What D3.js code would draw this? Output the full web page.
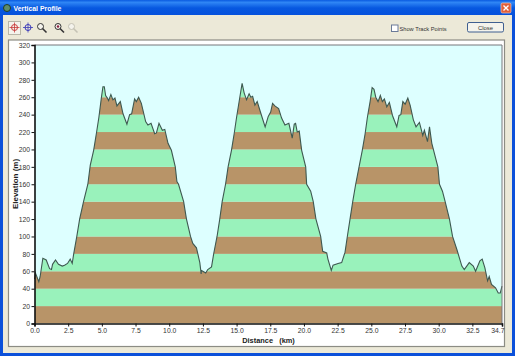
<!DOCTYPE html>
<html>
<head>
<meta charset="utf-8">
<script src="https://cdnjs.cloudflare.com/ajax/libs/d3/7.8.5/d3.min.js"></script>
<style>
html, body { margin: 0; padding: 0; background: #ECE9D8; overflow: hidden; }
svg { display: block; }
text { font-family: "Liberation Sans", Arial, sans-serif; }
</style>
</head>
<body>
<div id="chart"></div>
<script>
// distance in km, elevation in m
const distance = [0.0,0.07,0.32,0.42,0.62,0.87,1.12,1.26,1.34,1.56,1.78,2.06,2.23,2.45,2.65,2.80,2.91,3.14,
    3.35,3.64,3.96,4.14,4.39,4.59,4.78,4.96,5.08,5.18,5.28,5.41,5.50,5.67,5.82,5.97,6.12,6.37,6.57,6.86,7.06,7.21,7.43,7.56,7.73,7.93,8.25,8.42,8.65,8.92,9.05,9.24,9.49,9.67,9.91,10.16,10.45,
    10.57,10.69,11.07,11.28,11.58,11.75,12.02,12.27,12.37,12.39,12.71,12.86,13.14,13.31,13.55,13.75,13.93,14.18,
    14.37,14.62,14.82,15.0,15.24,15.41,15.56,15.74,15.93,16.06,16.19,16.36,16.53,16.85,17.12,17.35,17.53,17.67,17.84,18.12,18.34,18.59,18.88,19.13,19.28,19.38,19.50,19.65,19.83,20.13,
    20.2,20.5,20.69,20.89,21.24,21.39,21.69,21.78,22.03,22.16,22.53,22.8,23.05,23.22,23.42,23.62,23.84,
    24.09,24.33,24.54,24.71,24.91,25.06,25.20,25.33,25.50,25.67,25.82,25.97,26.15,26.34,26.57,26.89,27.06,27.19,27.34,27.51,27.71,27.88,28.12,28.32,28.57,28.82,28.94,29.17,29.32,29.49,29.94,
    30.06,30.28,30.48,30.8,31.03,31.35,31.72,31.9,32.27,32.57,32.74,33.06,33.23,33.43,33.63,33.75,33.92,34.22,34.42,34.57,34.7]
const elevation = [51,58,48,54,75,73,63,62,68,73,68,66,67,69,74,69,80,100,
    120,140,160,182,199,218,237,259,272,272,262,259,256,263,257,259,250,255,241,229,240,241,258,255,260,253,232,228,230,218,219,230,222,223,207,199,180,
    163,160,140,120,100,92,87,70,57,61,58,62,65,81,100,120,140,160,
    180,199,218,237,260,276,265,257,264,260,261,251,255,239,226,238,243,253,250,247,236,228,230,213,229,230,220,221,199,180,
    160,152,140,120,100,83,81,74,61,67,69,70,82,100,120,140,160,
    180,199,218,237,255,271,269,260,255,262,255,258,249,254,239,226,239,240,255,252,259,251,234,226,231,216,222,209,226,207,180,
    160,152,140,120,100,85,66,62,70,66,60,72,74,64,49,54,45,41,35,35,43]

const xTicks = [0,2.5,5,7.5,10,12.5,15,17.5,20,22.5,25,27.5,30,32.5,34.7]
const yTicks = d3.range(0, 321, 20)
const bandColors = ["#B89468", "#99F2BB"]

var margin = { top: 45, right: 13, bottom: 32.5, left: 34.5 },
    width = 515 - margin.left - margin.right,
    height = 356 - margin.top - margin.bottom;

const svg = d3.select("#chart").append("svg")
    .attr("width", 515)
    .attr("height", 356)

const defs = svg.append("defs")
const titleGrad = defs.append("linearGradient").attr("id", "titleGrad")
    .attr("x1", 0).attr("x2", 0).attr("y1", 0).attr("y2", 1)
titleGrad.append("stop").attr("offset", "0%").attr("stop-color", "#0A5BE0")
titleGrad.append("stop").attr("offset", "15%").attr("stop-color", "#2F86F5")
titleGrad.append("stop").attr("offset", "50%").attr("stop-color", "#0758E0")
titleGrad.append("stop").attr("offset", "100%").attr("stop-color", "#0550DC")

// window frame
svg.append("rect").attr("width", 515).attr("height", 356).attr("fill", "#0B50DA")
svg.append("rect").attr("x", 0).attr("y", 0).attr("width", 515).attr("height", 16).attr("fill", "url(#titleGrad)")
svg.append("rect").attr("x", 3).attr("y", 15).attr("width", 509).attr("height", 338).attr("fill", "#ECE9D8")

svg.append("circle").attr("cx", 7).attr("cy", 8).attr("r", 3.5).attr("fill", "#5E8C6A").attr("stroke", "#1d3d2a")
svg.append("text").attr("x", 13.5).attr("y", 11).text("Vertical Profile")
    .attr("fill", "#fff").attr("font-size", 6.9).attr("font-weight", "bold")

// close box
svg.append("rect").attr("x", 501).attr("y", 3).attr("width", 10).attr("height", 10).attr("rx", 1.5)
    .attr("fill", "#E2603A").attr("stroke", "#F0C8B8").attr("stroke-width", 0.7)
svg.append("path").attr("d", "M503.5,5.5L508.5,10.5M508.5,5.5L503.5,10.5")
    .attr("stroke", "#fff").attr("stroke-width", 1.4)

// toolbar
svg.append("rect").attr("x", 8.5).attr("y", 21.5).attr("width", 12).attr("height", 13)
    .attr("fill", "#F4F3EC").attr("stroke", "#B8B6A8")

function crosshair(cx, cy, color) {
    svg.append("circle").attr("cx", cx).attr("cy", cy).attr("r", 3)
        .attr("fill", "none").attr("stroke", color)
    svg.append("path").attr("d", `M${cx - 5},${cy}H${cx + 5}M${cx},${cy - 5}V${cy + 5}`)
        .attr("stroke", color).attr("stroke-width", 0.8)
}
crosshair(14.5, 27.5, "#C83A3A")
crosshair(28, 27.5, "#3A3AB8")

function lens(cx, cy, color, dot) {
    svg.append("circle").attr("cx", cx).attr("cy", cy).attr("r", 3)
        .attr("fill", "#F4F3EC").attr("stroke", color)
    svg.append("path").attr("d", `M${cx + 2},${cy + 2}L${cx + 6},${cy + 6}`)
        .attr("stroke", color).attr("stroke-width", 1.6)
    if (dot) svg.append("circle").attr("cx", cx).attr("cy", cy).attr("r", 1.2).attr("fill", dot)
}
lens(40.5, 26.5, "#333")
lens(58, 26.5, "#333", "#8A2040")
lens(71.5, 26.5, "#C4C2B4")

// show track points box and close button
svg.append("rect").attr("x", 391.5).attr("y", 25).attr("width", 6.5).attr("height", 6.5)
    .attr("fill", "#fff").attr("stroke", "#6A7A98")
svg.append("text").attr("x", 399.5).attr("y", 30.5).text("Show Track Points")
    .attr("fill", "#333").attr("font-size", 5.7)
svg.append("rect").attr("x", 467.5).attr("y", 22.5).attr("width", 36).attr("height", 9.5).attr("rx", 1.5)
    .attr("fill", "#F4F3EC").attr("stroke", "#3F5F90").attr("stroke-width", 1)
svg.append("text").attr("x", 485.5).attr("y", 29.7).attr("text-anchor", "middle").text("Close")
    .attr("fill", "#333").attr("font-size", 5.9)

// chart panel
svg.append("rect").attr("x", 8.5).attr("y", 40).attr("width", 496).attr("height", 306.5)
    .attr("fill", "#fff").attr("stroke", "#8C8C84").attr("stroke-width", 1.2)

const g = svg.append("g")
    .attr("transform", "translate(" + margin.left + "," + margin.top + ")")

var x = d3.scaleLinear().domain([0, 34.7]).range([0, width])
var y = d3.scaleLinear().domain([0, 320]).range([height, 0])

g.append("rect").attr("width", width).attr("height", height).attr("fill", "#DDFFFF")

const area = d3.area()
    .x((d, i) => x(distance[i]))
    .y0(height)
    .y1(d => y(d))
const line = d3.line()
    .x((d, i) => x(distance[i]))
    .y(d => y(d))

defs.append("clipPath").attr("id", "underLine")
    .append("path").attr("d", area(elevation))

// 20 m bands, only below the profile
g.append("g").attr("clip-path", "url(#underLine)")
    .selectAll("rect")
    .data(yTicks.slice(0, -1))
    .enter().append("rect")
    .attr("x", 0)
    .attr("width", width)
    .attr("y", d => y(d + 20))
    .attr("height", d => y(d) - y(d + 20))
    .attr("fill", (d, i) => bandColors[i % 2])

g.append("path").attr("d", line(elevation))
    .attr("fill", "none").attr("stroke", "#3E5850").attr("stroke-width", 1.1)

// grey top and right edges
g.append("path").attr("d", `M0,0H${width}V${height}`).attr("fill", "none").attr("stroke", "#77777A").attr("stroke-width", 1)

const xAxisCall = d3.axisBottom(x).tickValues(xTicks).tickFormat(d3.format(".1f")).tickSize(3).tickPadding(2)
const yAxisCall = d3.axisLeft(y).tickValues(yTicks).tickSize(3).tickPadding(1.5)

const xAxisGroup = g.append("g").attr("transform", "translate(0," + height + ")").call(xAxisCall)
const yAxisGroup = g.append("g").call(yAxisCall)

for (const a of [xAxisGroup, yAxisGroup]) {
    a.selectAll("text").attr("font-size", 6.8).attr("font-family", "'Liberation Sans', Arial, sans-serif").attr("fill", "#333")
    a.selectAll("line").attr("stroke", "#111")
    a.select(".domain").attr("stroke", "#111").attr("stroke-width", 1.6)
}
// last distance label stays inside the panel
xAxisGroup.selectAll("text").filter(d => d === 34.7).attr("text-anchor", "end").attr("dx", 2)

// axis titles
svg.append("text").attr("x", 268.5).attr("y", 343).attr("text-anchor", "middle")
    .attr("font-size", 7.4).attr("font-weight", "bold").attr("fill", "#222")
    .style("white-space", "pre").text("Distance   (km)")
svg.append("text").attr("transform", "translate(18,184) rotate(-90)").attr("text-anchor", "middle")
    .attr("font-size", 8).attr("font-weight", "bold").attr("fill", "#222")
    .text("Elevation (m)")
</script>
</body>
</html>
